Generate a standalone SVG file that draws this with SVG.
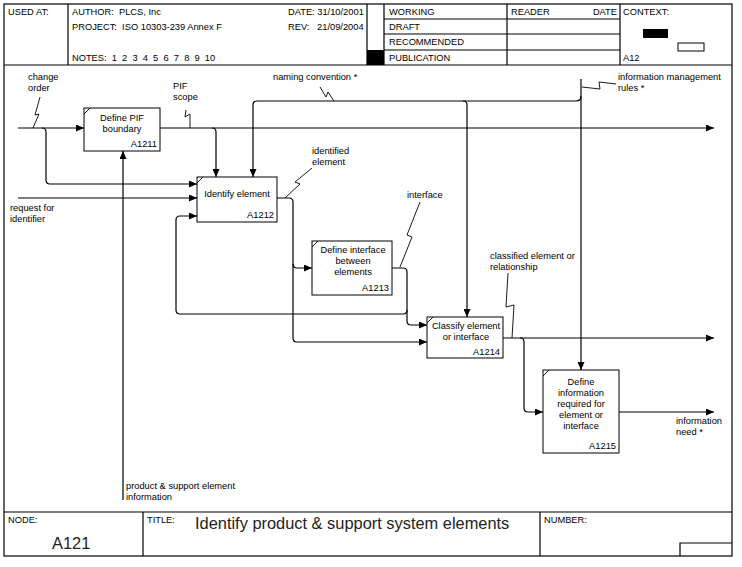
<svg xmlns="http://www.w3.org/2000/svg" width="742" height="567" viewBox="0 0 742 567">
<style>
text{font-family:"Liberation Sans",Arial,sans-serif;font-size:9.3px;fill:#000;white-space:pre}
.c{text-anchor:middle}
.r{text-anchor:end}
.big{font-size:16.4px;fill:#222}
.frame{fill:none;stroke:#000;stroke-width:1.2}
.box{fill:#fff;stroke:#000;stroke-width:1}
.ln{fill:none;stroke:#000;stroke-width:1.2}
.sq{fill:none;stroke:#000;stroke-width:0.9}
.arr{fill:none;stroke:#000;stroke-width:1.2;marker-end:url(#ah)}
</style>
<defs>
<marker id="ah" markerWidth="9" markerHeight="7" refX="8" refY="3.5" orient="auto" markerUnits="userSpaceOnUse">
<path d="M0,0 L8,3.5 L0,7 z" fill="#000"/>
</marker>
</defs>
<rect width="742" height="567" fill="#fff"/>
<g id="frame">
<rect class="frame" x="4" y="4" width="728" height="552"/>
<path class="ln" d="M4,65 H732 M68,4 V65 M367,4 V65 M384,4 V65 M507,4 V65 M620,4 V65 M384,19 H620 M384,34 H620 M384,50 H620"/>
<rect x="367" y="50" width="17" height="15" fill="#000"/>
<rect x="643" y="29" width="25" height="9" fill="#000"/>
<rect x="678" y="43" width="26" height="8" fill="none" stroke="#000" stroke-width="1"/>
<path class="ln" d="M4,512 H732 M143,512 V556 M540,512 V556 M680,556 V543 H732"/>
<text x="8" y="15">USED AT:</text>
<text x="72" y="15">AUTHOR:  PLCS, Inc</text>
<text x="288" y="15">DATE: 31/10/2001</text>
<text x="72" y="30">PROJECT:  ISO 10303-239 Annex F</text>
<text x="288" y="30">REV:   21/09/2004</text>
<text x="72" y="61">NOTES:  1  2  3  4  5  6  7  8  9  10</text>
<text x="389" y="15">WORKING</text>
<text x="389" y="30">DRAFT</text>
<text x="389" y="45">RECOMMENDED</text>
<text x="389" y="61">PUBLICATION</text>
<text x="511" y="15">READER</text>
<text x="617" y="15" class="r">DATE</text>
<text x="623" y="15">CONTEXT:</text>
<text x="623" y="61">A12</text>
<text x="8" y="523">NODE:</text>
<text x="52" y="549" class="big">A121</text>
<text x="147" y="523">TITLE:</text>
<text x="195" y="529" class="big">Identify product &amp; support system elements</text>
<text x="544" y="523">NUMBER:</text>
</g>
<g id="connectors">
<path class="arr" d="M18,128 H84"/>
<path class="arr" d="M42,128 Q46,128 46,132 V180 Q46,184 50,184 H197"/>
<path class="arr" d="M160,128 H714"/>
<path class="arr" d="M212,128 Q216,128 216,132 V177"/>
<path class="arr" d="M581,79 V370"/>
<path class="arr" d="M581,96 Q581,101 576,101 H257 Q253,101 253,105 V177"/>
<path class="arr" d="M463,101 Q467,101 467,105 V317"/>
<path class="arr" d="M18,198 H197"/>
<path class="arr" d="M277,198 H289 Q293,198 293,202 V338 Q293,342 297,342 H427"/>
<path class="arr" d="M293,264 Q293,268 297,268 H312"/>
<path class="arr" d="M392,268 H403 Q407,268 407,272 V321 Q407,325 411,325 H427"/>
<path class="arr" d="M407,310 Q407,314 403,314 H180 Q176,314 176,310 V220 Q176,216 180,216 H197"/>
<path class="arr" d="M503,338 H714"/>
<path class="arr" d="M520,338 Q524,338 524,342 V408 Q524,412 528,412 H543"/>
<path class="arr" d="M619,412 H714"/>
<path class="arr" d="M123,500 V151"/>
<path class="sq" d="M33,128 L39,114 L35,115 L40,97"/>
<path class="sq" d="M190,128 L190,114 L185,117 L186,110"/>
<path class="sq" d="M320,87 L326,97 L328,92 L334,101"/>
<path class="sq" d="M582,87 L600,89 L599,82 L616,84"/>
<path class="sq" d="M285,198 L300,184 L295,182 L312,168"/>
<path class="sq" d="M400,267 L412,237 L407,235 L420,202"/>
<path class="sq" d="M512,338 L514,305 L506,307 L508,273"/>
</g>
<g id="labels">
<text x="28" y="80">change</text>
<text x="28" y="91">order</text>
<text x="173" y="89">PIF</text>
<text x="173" y="100">scope</text>
<text x="273" y="80">naming convention *</text>
<text x="618" y="80">information management</text>
<text x="618" y="91">rules *</text>
<text x="312" y="154">identified</text>
<text x="312" y="165">element</text>
<text x="10" y="211">request for</text>
<text x="10" y="222">identifier</text>
<text x="407" y="198">interface</text>
<text x="490" y="259">classified element or</text>
<text x="490" y="270">relationship</text>
<text x="676" y="424">information</text>
<text x="676" y="435">need *</text>
<text x="126" y="489">product &amp; support element</text>
<text x="126" y="500">information</text>
</g>
<g id="A1211">
<rect class="box" x="84" y="108" width="76" height="43"/>
<path class="sq" d="M84,114 L90,108"/>
<text x="122" y="121" class="c">Define PIF</text>
<text x="122" y="132" class="c">boundary</text>
<text x="157" y="147" class="r">A1211</text>
</g>
<g id="A1212">
<rect class="box" x="197" y="177" width="80" height="45"/>
<path class="sq" d="M197,183 L203,177"/>
<text x="237" y="197" class="c">Identify element</text>
<text x="274" y="218" class="r">A1212</text>
</g>
<g id="A1213">
<rect class="box" x="312" y="241" width="80" height="54"/>
<path class="sq" d="M312,247 L318,241"/>
<text x="353" y="253" class="c">Define interface</text>
<text x="353" y="264" class="c">between</text>
<text x="353" y="275" class="c">elements</text>
<text x="389" y="291" class="r">A1213</text>
</g>
<g id="A1214">
<rect class="box" x="427" y="317" width="76" height="41"/>
<path class="sq" d="M427,323 L433,317"/>
<text x="466" y="329" class="c">Classify element</text>
<text x="466" y="340" class="c">or interface</text>
<text x="500" y="355" class="r">A1214</text>
</g>
<g id="A1215">
<rect class="box" x="543" y="370" width="76" height="83"/>
<path class="sq" d="M543,376 L549,370"/>
<text x="581" y="385" class="c">Define</text>
<text x="581" y="396" class="c">information</text>
<text x="581" y="407" class="c">required for</text>
<text x="581" y="418" class="c">element or</text>
<text x="581" y="429" class="c">interface</text>
<text x="616" y="449" class="r">A1215</text>
</g>
</svg>
